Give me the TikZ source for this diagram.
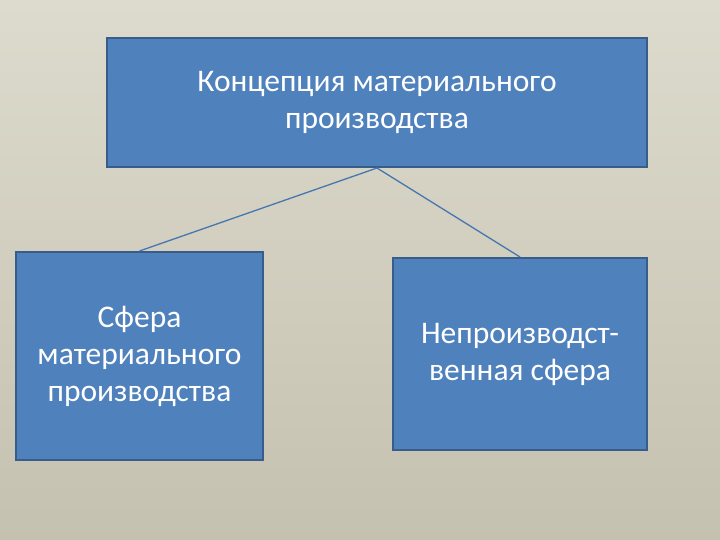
\documentclass[tikz,border=0pt]{standalone}
\usepackage{fontspec}
\setmainfont{Carlito}
\usetikzlibrary{}

\definecolor{boxfill}{HTML}{4F81BD}
\definecolor{boxline}{HTML}{385D8A}
\definecolor{linkline}{HTML}{4576B0}

\tikzset{
    sphere/.style={draw=boxline, line width=2pt, fill=boxfill, text=white,
        align=center, inner sep=0pt, font=\fontsize{31.5}{37}\selectfont},
    link/.style={draw=linkline, line width=1.3pt}
}

\begin{document}
\begin{tikzpicture}[x=1pt, y=-1pt]
    \shade[top color={rgb,255:red,221;green,219;blue,205}, bottom color={rgb,255:red,197;green,193;blue,176}]
        (0, 0) rectangle (720, 540);
    \useasboundingbox (0, 0) rectangle (720, 540);

    \node[sphere, minimum width=540pt, minimum height=129pt] (concept) at (377, 102.5)
        {Концепция материального\\производства};
    \node[sphere, minimum width=247pt, minimum height=208pt] (material) at (139.5, 356)
        {Сфера\\материального\\производства};
    \node[sphere, minimum width=254pt, minimum height=192pt] (nonprod) at (520, 354)
        {Непроизводст-\\венная сфера};

    \draw[link] (concept.south) -- (material.north);
    \draw[link] (concept.south) -- (nonprod.north);
\end{tikzpicture}
\end{document}
